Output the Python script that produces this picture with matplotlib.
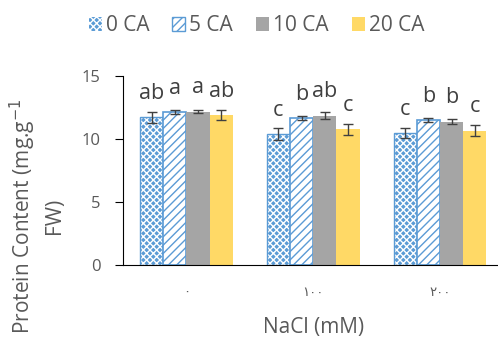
import matplotlib
matplotlib.use("Agg")
import matplotlib.pyplot as plt
import matplotlib.patches as mpatches
import numpy as np

plt.rcParams['font.family'] = ['Open Sans', 'DejaVu Sans']
plt.rcParams['hatch.linewidth'] = 1.0

groups = ['\u0660', '\u0661\u0660\u0660', '\u0662\u0660\u0660']
series = ['0 CA', '5 CA', '10 CA', '20 CA']
means = [
    [11.72, 12.15, 12.17, 11.90],
    [10.40, 11.65, 11.85, 10.78],
    [10.45, 11.50, 11.38, 10.65],
]
errors = [
    [0.45, 0.15, 0.15, 0.42],
    [0.45, 0.13, 0.25, 0.43],
    [0.40, 0.13, 0.20, 0.44],
]
letters = [
    ['ab', 'a', 'a', 'ab'],
    ['c', 'b', 'ab', 'c'],
    ['c', 'b', 'b', 'c'],
]

blue = '#5B9BD5'
gray = '#A5A5A5'
gold = '#FFD966'
txt = '#595959'

fig = plt.figure(figsize=(4.98, 3.45), dpi=100)
ax = fig.add_axes([0.247, 0.232, 1.011 - 0.247, 0.548])

means = np.array(means)
errors = np.array(errors)
x = np.arange(len(groups))
w = 0.183

for i in range(4):
    xs = x + (i - 1.5) * w
    if i == 0:
        ax.bar(xs, means[:, i], w, color=blue, edgecolor='white', hatch='xxxxx', linewidth=0)
        ax.bar(xs, means[:, i], w, fill=False, edgecolor=blue, linewidth=1)
    elif i == 1:
        ax.bar(xs, means[:, i], w, color='white', edgecolor=blue, hatch='////', linewidth=1.2)
    elif i == 2:
        ax.bar(xs, means[:, i], w, color=gray, linewidth=0)
    else:
        ax.bar(xs, means[:, i], w, color=gold, linewidth=0)
    ax.errorbar(xs, means[:, i], yerr=errors[:, i], fmt='none', ecolor='#404040',
                elinewidth=1, capsize=3.6, capthick=1)
    for j in range(len(groups)):
        ax.text(xs[j], means[j, i] + 1.45, letters[j][i], ha='center', va='baseline',
                fontsize=15.5, color='#404040')

ax.set_xlim(-0.5, 2.5)
ax.set_ylim(0, 15)
ax.set_yticks([0, 5, 10, 15])
ax.set_xticks(x)
ax.set_xticklabels(groups, fontsize=9.5, color=txt)
ax.tick_params(axis='x', length=0, pad=15)
ax.tick_params(axis='y', labelsize=12, labelcolor=txt, length=6, direction='out', pad=10)
for s in ['top', 'right']:
    ax.spines[s].set_visible(False)
ax.spines['left'].set_color('black')
ax.spines['bottom'].set_color('black')

ax.set_xlabel('NaCl (mM)', fontsize=15, color=txt, labelpad=13)
ax.set_ylabel('Protein Content (mg.g$^{-1}$\nFW)', fontsize=15, color=txt,
              multialignment='center', linespacing=1.4)
ax.yaxis.label.set_va('center')
ax.yaxis.set_label_coords(-0.228, 0.26)

h0 = mpatches.Patch(facecolor=blue, edgecolor='white', hatch='xxxxx', linewidth=0)
h1 = mpatches.Patch(facecolor='white', edgecolor=blue, hatch='////')
h2 = mpatches.Patch(facecolor=gray)
h3 = mpatches.Patch(facecolor=gold)
fig.legend([h0, h1, h2, h3], series, loc='upper center', bbox_to_anchor=(0.515, 1.01),
           ncol=4, frameon=False, fontsize=15, handlelength=0.62, handleheight=0.62,
           handletextpad=0.2, columnspacing=1.1, labelcolor=txt)

fig.savefig('out.png', dpi=100)
